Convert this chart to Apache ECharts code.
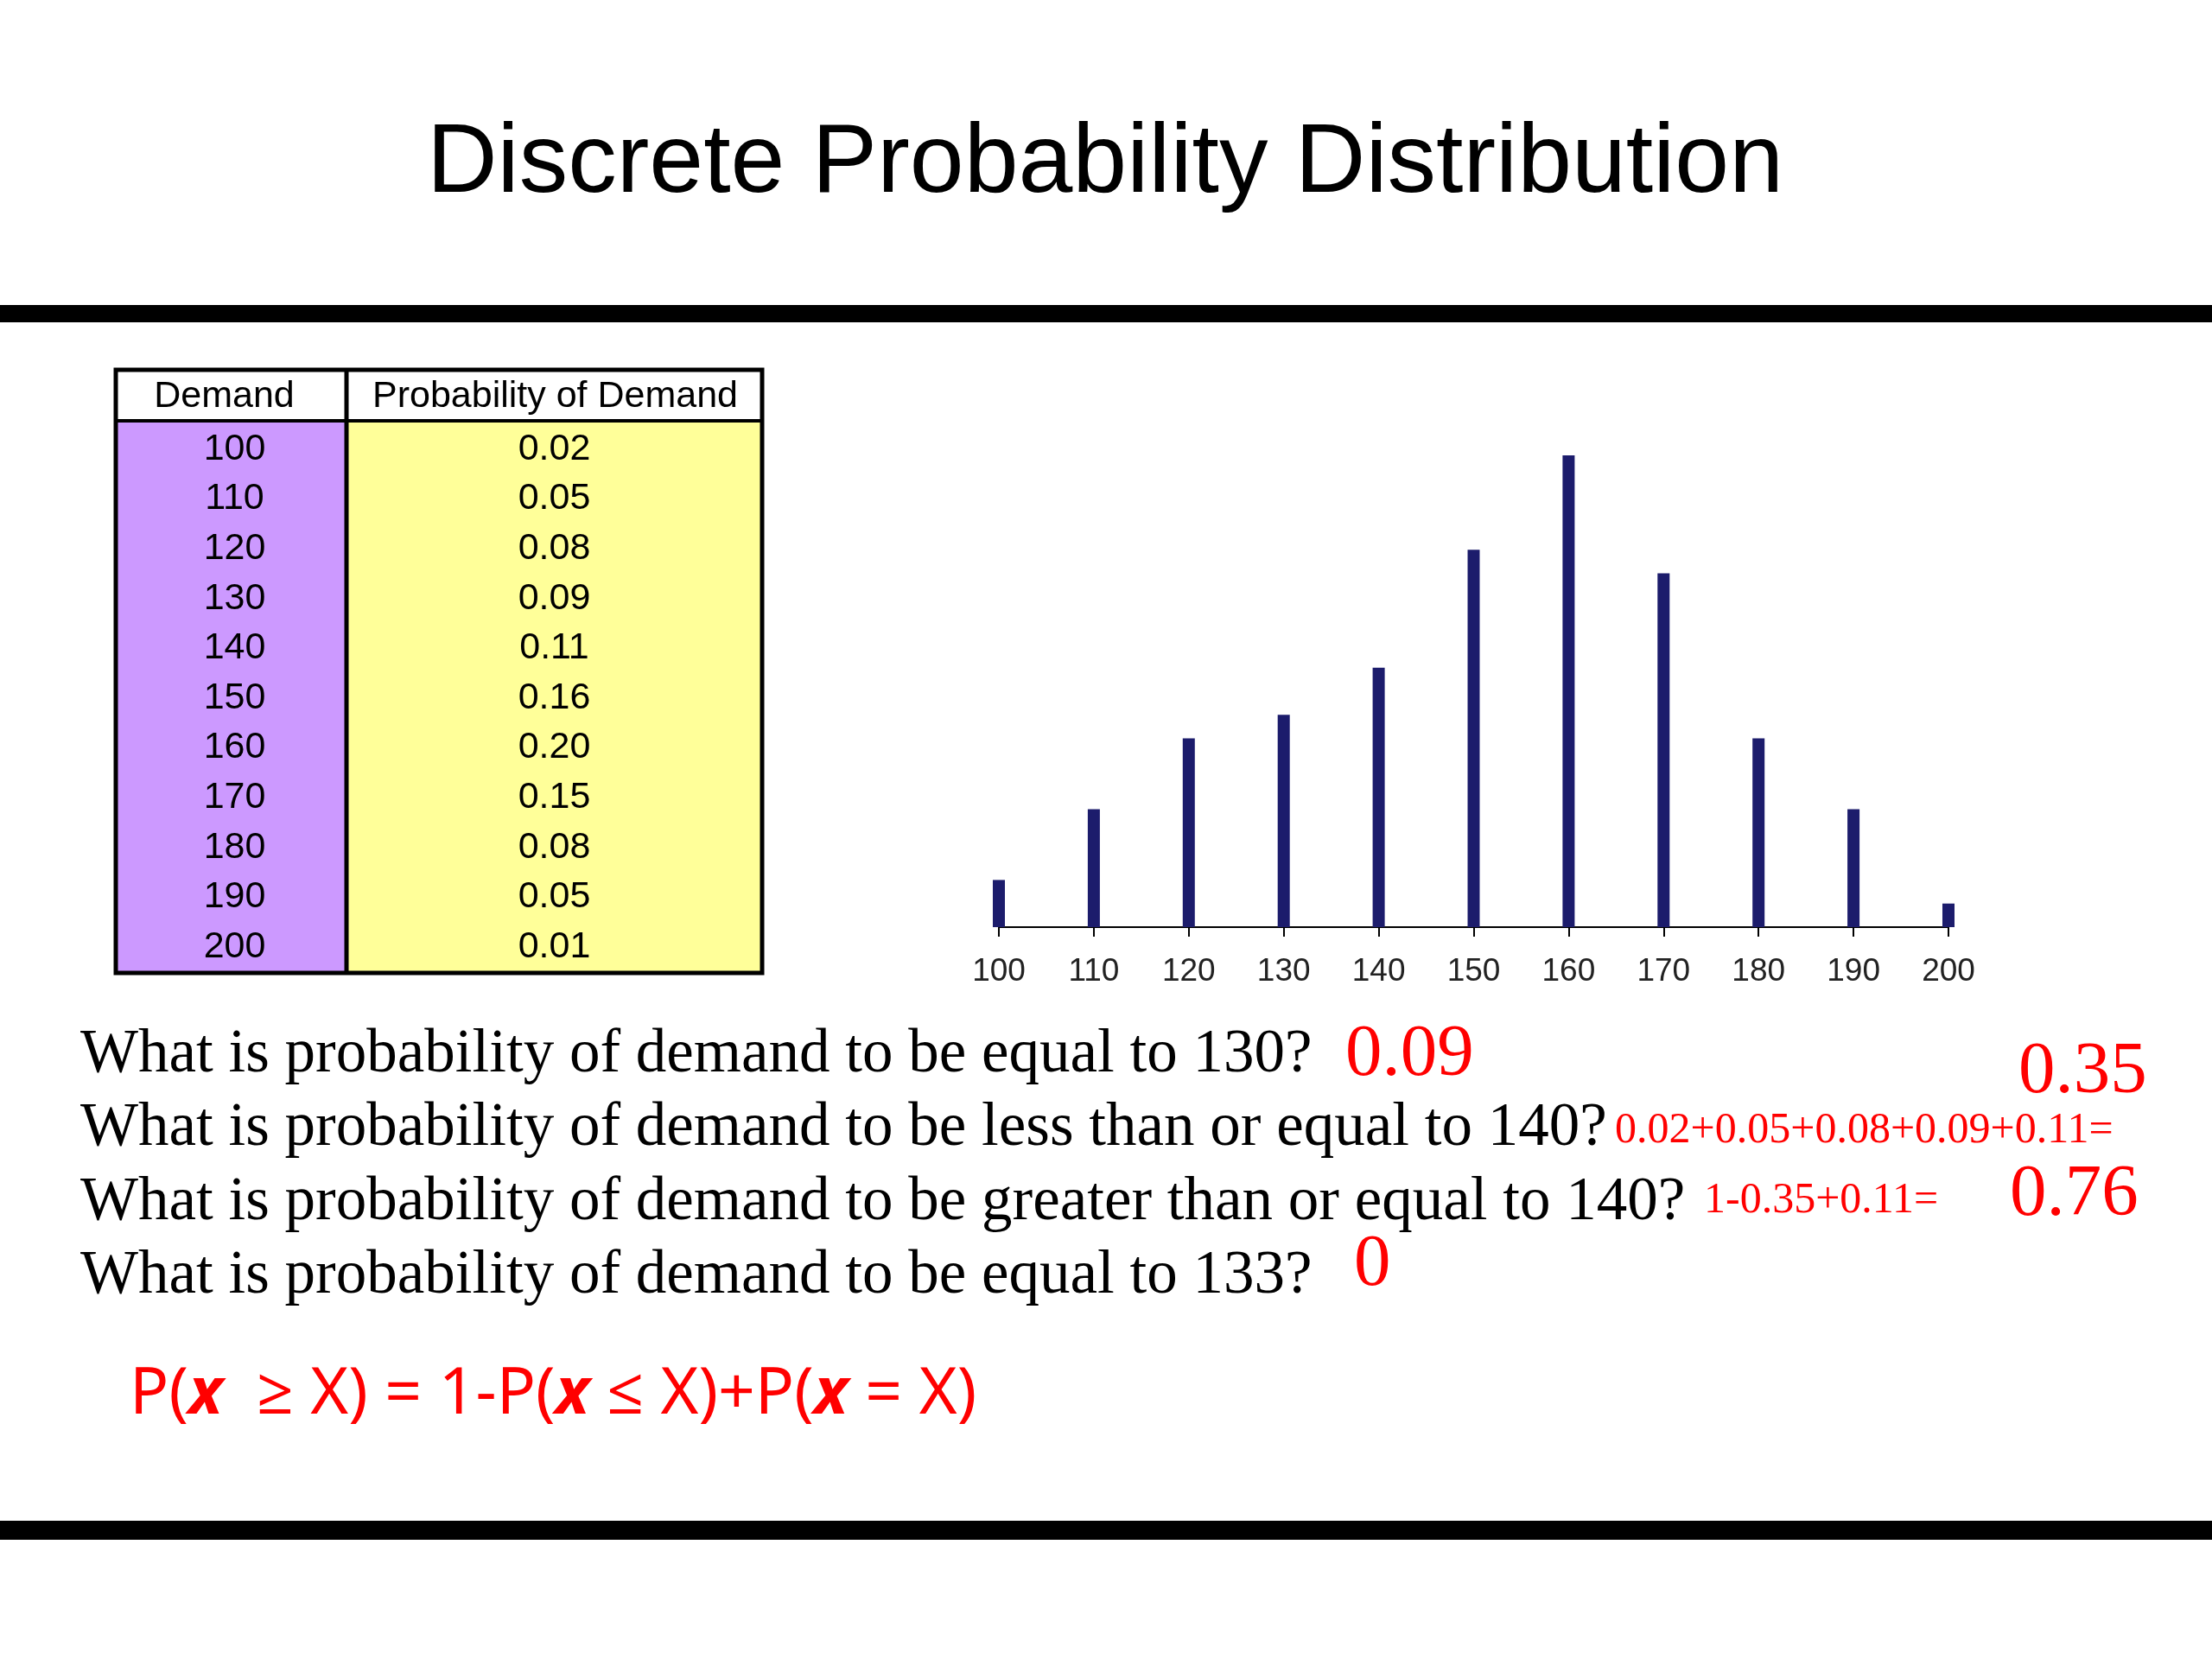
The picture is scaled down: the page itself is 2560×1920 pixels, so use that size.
<!DOCTYPE html>
<html>
<head>
<meta charset="utf-8">
<title>Discrete Probability Distribution</title>
<script src="https://cdn.jsdelivr.net/npm/echarts@6/dist/echarts.min.js"></script>
<style>
  html, body { margin: 0; padding: 0; background: #fff; }
  #main { width: 2560px; height: 1920px; }
</style>
</head>
<body>
<div id="main"></div>
<script>
// data
const demand = [100, 110, 120, 130, 140, 150, 160, 170, 180, 190, 200];
const probability = [0.02, 0.05, 0.08, 0.09, 0.11, 0.16, 0.20, 0.15, 0.08, 0.05, 0.01];
const tableHeader = ['Demand', 'Probability of Demand'];
const questions = [
  'What is probability of demand to be equal to 130?',
  'What is probability of demand to be less than or equal to 140?',
  'What is probability of demand to be greater than or equal to 140?',
  'What is probability of demand to be equal to 133?'
];
const answers = ['0.09', '0.35', '0.76', '0'];
const workings = ['0.02+0.05+0.08+0.09+0.11=', '1-0.35+0.11='];

const sans = '"Liberation Sans", Arial, sans-serif';
const serif = '"Liberation Serif", "Times New Roman", serif';
const red = '#ff0000';

const chart = echarts.init(document.getElementById('main'), null, { renderer: 'canvas' });

// table layout
const tbl = { left: 134, right: 882, top: 428, bottom: 1126, split: 401, head: 487 };
const rowH = (tbl.bottom - tbl.head) / demand.length;

function tableGraphics() {
  const g = [];
  g.push({ type: 'rect', shape: { x: tbl.left, y: tbl.top, width: tbl.right - tbl.left, height: tbl.head - tbl.top }, style: { fill: '#fff' } });
  g.push({ type: 'rect', shape: { x: tbl.left, y: tbl.head, width: tbl.split - tbl.left, height: tbl.bottom - tbl.head }, style: { fill: '#cc99ff' } });
  g.push({ type: 'rect', shape: { x: tbl.split, y: tbl.head, width: tbl.right - tbl.split, height: tbl.bottom - tbl.head }, style: { fill: '#ffff99' } });
  // borders
  g.push({ type: 'rect', shape: { x: tbl.left, y: tbl.top, width: tbl.right - tbl.left, height: tbl.bottom - tbl.top }, style: { fill: 'none', stroke: '#000', lineWidth: 5 } });
  g.push({ type: 'line', shape: { x1: tbl.left, y1: tbl.head, x2: tbl.right, y2: tbl.head }, style: { stroke: '#000', lineWidth: 4 } });
  g.push({ type: 'line', shape: { x1: tbl.split, y1: tbl.top, x2: tbl.split, y2: tbl.bottom }, style: { stroke: '#000', lineWidth: 5 } });

  const c1 = (tbl.left + tbl.split) / 2;
  const c2 = (tbl.split + tbl.right) / 2;
  const cell = (x, y, text) => ({
    type: 'text', x: x, y: y,
    style: { text: text, font: '43px ' + sans, fill: '#000', align: 'center', verticalAlign: 'middle' }
  });
  g.push(cell(c1 - 8, (tbl.top + tbl.head) / 2 + 2, tableHeader[0]));
  g.push(cell(c2 + 1, (tbl.top + tbl.head) / 2 + 2, tableHeader[1]));
  demand.forEach((d, i) => {
    const y = tbl.head + 33 + (rowH - 0.5) * i;
    g.push(cell(c1 + 4, y, String(d)));
    g.push(cell(c2, y, probability[i].toFixed(2)));
  });
  return g;
}

function textGraphics() {
  const g = [];
  const lineY = [1221, 1306, 1392, 1477];
  questions.forEach((q, i) => {
    g.push({ type: 'text', x: 93, y: lineY[i], style: { text: q, font: '71px ' + serif, fill: '#000', verticalAlign: 'middle' } });
  });
  const big = (x, y, t) => ({ type: 'text', x: x, y: y, style: { text: t, font: '85px ' + serif, fill: red, verticalAlign: 'middle' } });
  const small = (x, y, t) => ({ type: 'text', x: x, y: y, style: { text: t, font: '50px ' + serif, fill: red, verticalAlign: 'middle' } });
  g.push(big(1557, 1222, answers[0]));
  g.push(big(2336, 1242, answers[1]));
  g.push(small(1869, 1309, workings[0]));
  g.push(small(1972, 1390, workings[1]));
  g.push(big(2326, 1384, answers[2]));
  g.push(big(1567, 1465, answers[3]));

  // formula
  g.push({
    type: 'text', x: 150, y: 1615,
    style: {
      text: 'P({x|x}  \u2265 X) = 1-P({x|x} \u2264 X)+P({x|x} = X)',
      font: '75px "Noto Sans", "Open Sans", sans-serif',
      fill: red,
      verticalAlign: 'middle',
      rich: {
        x: { fontSize: 75, fontWeight: 'bold', fontStyle: 'italic', fontFamily: '"Noto Sans", "Open Sans", sans-serif', fill: red }
      }
    }
  });
  return g;
}

const option = {
  backgroundColor: '#ffffff',
  animation: false,
  grid: { left: 1156, right: 305, top: 527, bottom: 847, containLabel: false },
  xAxis: {
    type: 'value',
    min: 100,
    max: 200,
    interval: 10,
    axisLine: { show: true, lineStyle: { color: '#000', width: 2 } },
    axisTick: { show: true, length: 11, lineStyle: { color: '#000', width: 2 } },
    axisLabel: {
      margin: 33,
      fontSize: 37,
      color: '#222',
      fontFamily: '"Liberation Sans Narrow", "Arial Narrow", "Liberation Sans", sans-serif'
    },
    splitLine: { show: false }
  },
  yAxis: {
    type: 'value',
    min: 0,
    max: 0.2,
    show: false
  },
  series: [{
    type: 'bar',
    barWidth: 14,
    clip: false,
    itemStyle: { color: '#1c1c6c' },
    data: demand.map((d, i) => [d, probability[i]])
  }],
  graphic: [
    {
      type: 'text', x: 1279, y: 191,
      style: { text: 'Discrete Probability Distribution', font: '113px ' + sans, fill: '#000', align: 'center', verticalAlign: 'middle' }
    },
    { type: 'rect', shape: { x: 0, y: 353, width: 2560, height: 20 }, style: { fill: '#000' } },
    { type: 'rect', shape: { x: 0, y: 1760, width: 2560, height: 22 }, style: { fill: '#000' } }
  ].concat(tableGraphics(), textGraphics())
};

chart.setOption(option);
</script>
</body>
</html>
